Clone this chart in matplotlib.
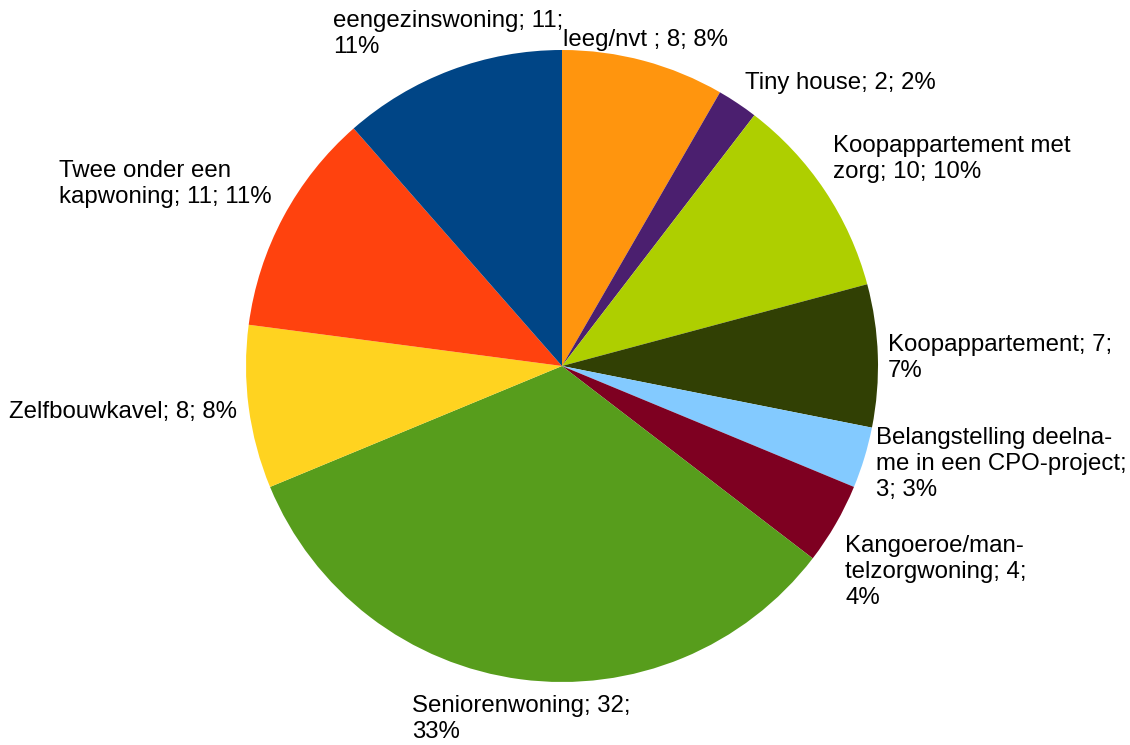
import matplotlib
matplotlib.use("Agg")
import matplotlib.pyplot as plt

# Survey answers: preferred type of housing
categories = [
    "leeg/nvt ",
    "Tiny house",
    "Koopappartement met zorg",
    "Koopappartement",
    "Belangstelling deelname in een CPO-project",
    "Kangoeroe/mantelzorgwoning",
    "Seniorenwoning",
    "Zelfbouwkavel",
    "Twee onder een kapwoning",
    "eengezinswoning",
]
counts = [8, 2, 10, 7, 3, 4, 32, 8, 11, 11]
colors = [
    "#FF950E", "#4B1F6F", "#AECF00", "#314004", "#83CAFF",
    "#7E0021", "#579D1C", "#FFD320", "#FF420E", "#004586",
]

# Label text as wrapped in the chart
label_lines = [
    ["leeg/nvt ; {v}; {p}"],
    ["Tiny house; {v}; {p}"],
    ["Koopappartement met", "zorg; {v}; {p}"],
    ["Koopappartement; {v};", "{p}"],
    ["Belangstelling deelna-", "me in een CPO-project;", "{v}; {p}"],
    ["Kangoeroe/man-", "telzorgwoning; {v};", "{p}"],
    ["Seniorenwoning; {v};", "{p}"],
    ["Zelfbouwkavel; {v}; {p}"],
    ["Twee onder een", "kapwoning; {v}; {p}"],
    ["eengezinswoning; {v};", "{p}"],
]
# Top-left corner of each label block, in pixels from the top-left of the figure
label_anchor_px = [
    (563, 29), (745, 72), (833, 135), (888, 334), (876, 427),
    (845, 535), (412, 695), (9, 401), (59, 160), (333, 10),
]

W, H = 1130, 745
cx, cy, r = 562, 366, 316

plt.rcParams["font.family"] = ["Liberation Sans", "DejaVu Sans"]
fig = plt.figure(figsize=(W / 100, H / 100), dpi=100)
ax = fig.add_axes([(cx - r) / W, (H - cy - r) / H, 2 * r / W, 2 * r / H])
ax.pie(counts, colors=colors, startangle=90, counterclock=False, radius=1.0,
       wedgeprops=dict(linewidth=0))
ax.set_xlim(-1, 1)
ax.set_ylim(-1, 1)
ax.set_aspect("equal")
ax.axis("off")

total = sum(counts)
for lines, v, (px, py) in zip(label_lines, counts, label_anchor_px):
    pct = f"{round(100 * v / total)}%"
    text = "\n".join(l.format(v=v, p=pct) for l in lines)
    fig.text(px / W, 1 - py / H, text, ha="left", va="top",
             fontsize=17.3, linespacing=1.24, color="#000000")

fig.savefig("out.png", dpi=100)
